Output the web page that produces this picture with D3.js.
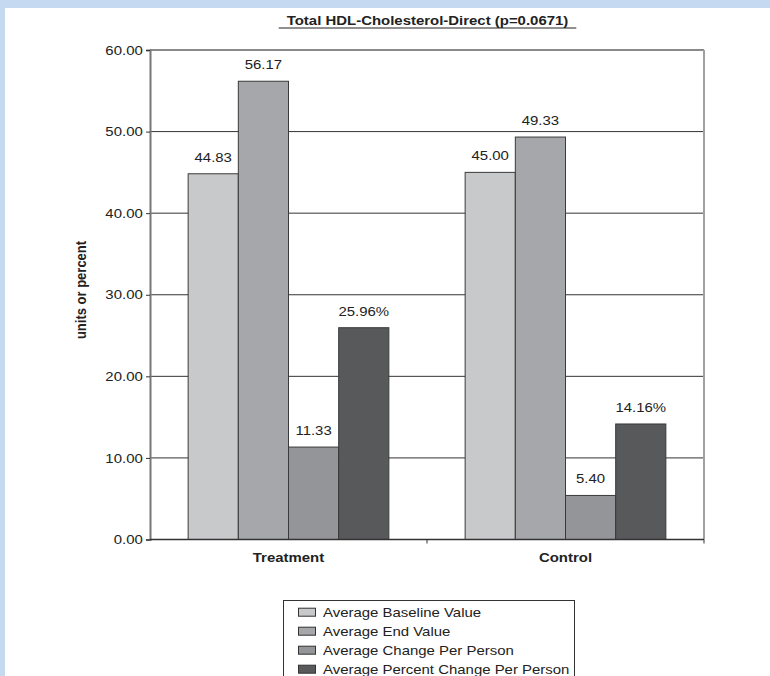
<!DOCTYPE html>
<html>
<head>
<meta charset="utf-8">
<script src="https://cdn.jsdelivr.net/npm/d3@7/dist/d3.min.js"></script>
<style>
  html, body { margin: 0; padding: 0; background: #ffffff; }
  svg { display: block; }
  text { font-family: "Liberation Sans", Arial, sans-serif; fill: #222; }
</style>
</head>
<body>
<svg id="chart" width="770" height="676"></svg>
<script>
// Groups along the x axis
const categories = ["Treatment", "Control"];
// Series names (legend order)
const seriesNames = [
  "Average Baseline Value",
  "Average End Value",
  "Average Change Per Person",
  "Average Percent Change Per Person"
];
// Values for each series, one per group
const baselineValues = [44.83, 45.00];
const endValues = [56.17, 49.33];
const changeValues = [11.33, 5.40];
const percentChangeValues = [25.96, 14.16];
// Y axis ticks
const yTicks = [0, 10, 20, 30, 40, 50, 60];

const seriesValues = [baselineValues, endValues, changeValues, percentChangeValues];
const seriesSuffix = ["", "", "", "%"];
const seriesColors = ["#c8c9cb", "#a6a7aa", "#949598", "#58595b"];

// Text is drawn slightly widened horizontally
const SX = 1.15;
function label(parent, x, y, str, opts = {}) {
  return parent.append("text")
    .attr("transform", `translate(${x},${y}) scale(${SX},1)`)
    .attr("text-anchor", opts.anchor || "start")
    .attr("font-size", opts.size || 13)
    .attr("font-weight", opts.bold ? "bold" : null)
    .text(str);
}

const svg = d3.select("#chart");
const W = 770, H = 676;

// Light blue frame along the top and left edges
svg.append("rect").attr("x", 0).attr("y", 0).attr("width", W).attr("height", 8).attr("fill", "#c5d9f1");
svg.append("rect").attr("x", 0).attr("y", 0).attr("width", 5).attr("height", H).attr("fill", "#c5d9f1");

const plot = { left: 150, right: 704, top: 50, bottom: 539.5 };

const x = d3.scaleBand().domain(categories).range([plot.left, plot.right]).paddingInner(0).paddingOuter(0);
const xInner = d3.scaleBand().domain(d3.range(seriesNames.length)).range([0, x.bandwidth()])
  .paddingInner(0).paddingOuter(0.76);
const y = d3.scaleLinear().domain([0, 60]).range([plot.bottom, plot.top]);

// Horizontal gridlines
svg.append("g").selectAll("line").data(yTicks.filter(t => t > 0 && t < 60)).join("line")
  .attr("x1", plot.left).attr("x2", plot.right)
  .attr("y1", d => y(d)).attr("y2", d => y(d))
  .attr("stroke", "#333").attr("stroke-width", 1);
// Top edge of plot area
svg.append("line").attr("x1", plot.left).attr("x2", plot.right)
  .attr("y1", y(60)).attr("y2", y(60)).attr("stroke", "#8a8a8a").attr("stroke-width", 2);
// Right edge of plot area
svg.append("line").attr("x1", plot.right).attr("x2", plot.right)
  .attr("y1", y(60)).attr("y2", y(0)).attr("stroke", "#a0a0a0").attr("stroke-width", 2);

// Bars with value labels
const groups = svg.append("g").selectAll("g").data(categories).join("g")
  .attr("transform", d => `translate(${x(d)},0)`);

groups.each(function(cat, ci) {
  const g = d3.select(this);
  seriesValues.forEach((vals, si) => {
    const v = vals[ci];
    g.append("rect")
      .attr("x", xInner(si))
      .attr("y", y(v))
      .attr("width", xInner.bandwidth())
      .attr("height", y(0) - y(v))
      .attr("fill", seriesColors[si])
      .attr("stroke", "#3a3a3a")
      .attr("stroke-width", 1);
    label(g, xInner(si) + xInner.bandwidth() / 2, y(v) - 12, v.toFixed(2) + seriesSuffix[si], { anchor: "middle" });
  });
});

// Y axis
const yAxis = d3.axisLeft(y).tickValues(yTicks).tickFormat(d => d.toFixed(2)).tickSize(4).tickPadding(2.3);
const yG = svg.append("g").attr("transform", `translate(${plot.left},0)`).call(yAxis);
yG.select(".domain").attr("stroke", "#777").attr("stroke-width", 2);
yG.selectAll(".tick line").attr("stroke", "#333");
yG.selectAll(".tick text").attr("font-size", 13).attr("fill", "#222")
  .attr("font-family", "Liberation Sans, Arial, sans-serif")
  .attr("transform", `scale(${SX},1)`);

// X axis (category axis with boundary ticks)
const xG = svg.append("g").attr("transform", `translate(0,${plot.bottom})`);
xG.append("line").attr("x1", plot.left).attr("x2", plot.right).attr("y1", 0).attr("y2", 0)
  .attr("stroke", "#333").attr("stroke-width", 1.5);
const boundaries = categories.map(c => x(c)).concat([plot.right]);
xG.selectAll("line.b").data(boundaries.slice(1)).join("line").attr("class", "b")
  .attr("x1", d => d).attr("x2", d => d).attr("y1", 0).attr("y2", 4)
  .attr("stroke", "#333");
categories.forEach(c => label(xG, x(c) + x.bandwidth() / 2, 22, c, { anchor: "middle", bold: true }));

// Title (underlined)
const title = label(svg, 427.5, 25, "Total HDL-Cholesterol-Direct (p=0.0671)", { anchor: "middle", bold: true });
const tw = title.node().getBBox().width * SX;
svg.append("line").attr("x1", 427.5 - tw / 2 - 8).attr("x2", 427.5 + tw / 2 + 8)
  .attr("y1", 28).attr("y2", 28).attr("stroke", "#222").attr("stroke-width", 1);

// Y axis title
svg.append("text")
  .attr("transform", `translate(86,290) scale(${SX},1) rotate(-90)`)
  .attr("text-anchor", "middle")
  .attr("font-size", 13).attr("font-weight", "bold")
  .text("units or percent");

// Legend
const legend = svg.append("g");
legend.append("rect").attr("x", 283.5).attr("y", 600.5).attr("width", 291).attr("height", 90)
  .attr("fill", "#fff").attr("stroke", "#333").attr("stroke-width", 1);
seriesNames.forEach((name, i) => {
  const rowY = 616.7 + i * 19;
  legend.append("rect").attr("x", 298.5).attr("y", rowY - 8.5).attr("width", 17).attr("height", 8)
    .attr("fill", seriesColors[i]).attr("stroke", "#333").attr("stroke-width", 1);
  label(legend, 323, rowY, name);
});
</script>
</body>
</html>
